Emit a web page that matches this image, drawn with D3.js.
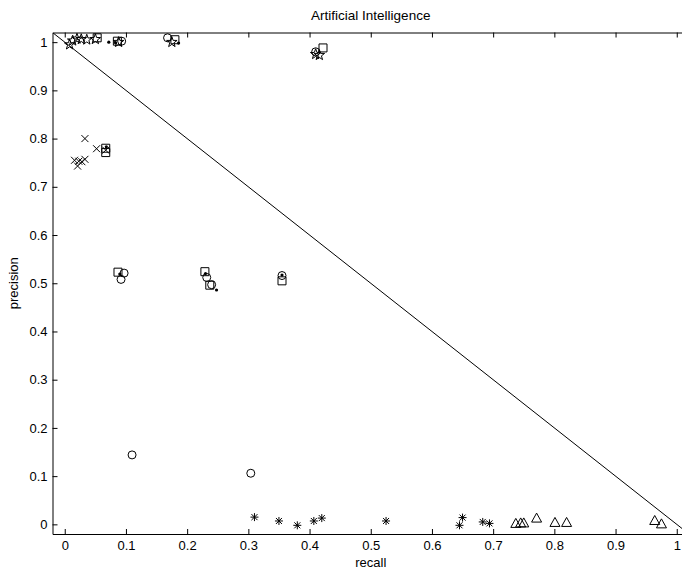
<!DOCTYPE html>
<html>
<head>
<meta charset="utf-8">
<script src="https://cdn.jsdelivr.net/npm/d3@7"></script>
<style>
body { margin: 0; background: #fff; }
text { font-family: "Liberation Sans", Arial, Helvetica, sans-serif; fill: #000; }
</style>
</head>
<body>
<script>
// recall / precision pairs per marker type
var stars = [[0.008, 0.995], [0.013, 1.003], [0.02, 1.007], [0.027, 1.006], [0.036, 1.005], [0.05, 1.006], [0.088, 1.0], [0.175, 1.0], [0.41, 0.975], [0.416, 0.973]];
var squares = [[0.053, 1.009], [0.086, 1.002], [0.18, 1.005], [0.422, 0.988], [0.067, 0.78], [0.067, 0.771], [0.087, 0.523], [0.229, 0.524], [0.237, 0.496], [0.355, 0.505]];
var circles = [[0.093, 1.002], [0.168, 1.009], [0.41, 0.98], [0.097, 0.521], [0.092, 0.508], [0.232, 0.512], [0.24, 0.497], [0.355, 0.516], [0.11, 0.144], [0.304, 0.106]];
var dots = [[0.072, 1.0], [0.083, 0.999], [0.186, 0.998], [0.068, 0.783], [0.09, 0.519], [0.23, 0.52], [0.248, 0.486], [0.355, 0.517]];
var crosses = [[0.033, 0.80], [0.052, 0.779], [0.016, 0.755], [0.023, 0.753], [0.021, 0.743], [0.028, 0.752], [0.033, 0.757], [0.067, 0.776]];
var asterisks = [[0.31, 0.015], [0.35, 0.007], [0.38, -0.002], [0.407, 0.007], [0.42, 0.013], [0.525, 0.007], [0.65, 0.014], [0.645, -0.002], [0.683, 0.005], [0.694, 0.002]];
var triangles = [[0.737, 0.002], [0.745, 0.003], [0.75, 0.003], [0.771, 0.013], [0.801, 0.004], [0.82, 0.004], [0.964, 0.008], [0.975, 0.001]];
var xTicks = [0, 0.1, 0.2, 0.3, 0.4, 0.5, 0.6, 0.7, 0.8, 0.9, 1];
var yTicks = [0, 0.1, 0.2, 0.3, 0.4, 0.5, 0.6, 0.7, 0.8, 0.9, 1];

var width = 682, height = 574;
var mLeft = 52.5, mRight = 689, mTop = 32.5, mBottom = 534;

var svg = d3.select("body").append("svg")
    .attr("width", width)
    .attr("height", height);

var x = d3.scaleLinear().domain([-0.02, 1.02]).range([mLeft, mRight]);
var y = d3.scaleLinear().domain([-0.02, 1.02]).range([mBottom, mTop]);

svg.append("clipPath").attr("id", "clip")
    .append("rect")
    .attr("x", mLeft).attr("y", mTop)
    .attr("width", mRight - mLeft).attr("height", mBottom - mTop);

// axes, MATLAB style: ticks inside
var fmt = function(d) { return String(+d.toFixed(1)); };
svg.append("g")
    .attr("transform", "translate(0," + mBottom + ")")
    .call(d3.axisBottom(x).tickValues(xTicks).tickSizeInner(-5).tickSizeOuter(0).tickPadding(7).tickFormat(fmt));
svg.append("g")
    .attr("transform", "translate(0," + mTop + ")")
    .call(d3.axisTop(x).tickValues(xTicks).tickSizeInner(-5).tickSizeOuter(0).tickFormat(""));
svg.append("g")
    .attr("transform", "translate(" + mLeft + ",0)")
    .call(d3.axisLeft(y).tickValues(yTicks).tickSizeInner(-5).tickSizeOuter(0).tickPadding(5).tickFormat(fmt));
svg.append("g")
    .attr("transform", "translate(" + mRight + ",0)")
    .call(d3.axisRight(y).tickValues(yTicks).tickSizeInner(-5).tickSizeOuter(0).tickFormat(""));

svg.selectAll(".domain, .tick line").attr("stroke", "#000").attr("stroke-width", 1);
svg.selectAll(".tick text").style("font-size", "13px").attr("fill", "#000");

// diagonal
svg.append("line")
    .attr("clip-path", "url(#clip)")
    .attr("x1", x(-0.02)).attr("y1", y(1.02))
    .attr("x2", x(1.02)).attr("y2", y(-0.02))
    .attr("stroke", "#000").attr("stroke-width", 1);

var g = svg.append("g").attr("fill", "none").attr("stroke", "#000").attr("stroke-width", 1);

function starPath(R) {
    var r = R * 0.4, p = [];
    for (var i = 0; i < 10; i++) {
        var a = -Math.PI / 2 + i * Math.PI / 5, rr = i % 2 ? r : R;
        p.push([rr * Math.cos(a), rr * Math.sin(a)]);
    }
    return "M" + p.join("L") + "Z";
}

var shapes = [
    { data: stars, d: starPath(5.5) },
    { data: squares, d: "M-4,-4H4V4H-4Z" },
    { data: circles, d: "M4,0A4,4 0 1,1 -4,0A4,4 0 1,1 4,0Z" },
    { data: crosses, d: "M-3.5,-3.5L3.5,3.5M-3.5,3.5L3.5,-3.5" },
    { data: asterisks, d: "M-4,0H4M0,-4V4M-3,-3L3,3M-3,3L3,-3" },
    { data: triangles, d: "M0,-5L5,4H-5Z" }
];

shapes.forEach(function(s) {
    g.selectAll(null)
        .data(s.data)
        .enter().append("path")
        .attr("d", s.d)
        .attr("transform", function(d) { return "translate(" + x(d[0]) + "," + y(d[1]) + ")"; });
});

svg.append("g").selectAll("circle")
    .data(dots)
    .enter().append("circle")
    .attr("cx", function(d) { return x(d[0]); })
    .attr("cy", function(d) { return y(d[1]); })
    .attr("r", 1.6)
    .attr("fill", "#000");

// labels
var cx = (mLeft + mRight) / 2;
svg.append("text").attr("x", cx).attr("y", 20).attr("text-anchor", "middle")
    .style("font-size", "13.5px").text("Artificial Intelligence");
svg.append("text").attr("x", cx).attr("y", 567).attr("text-anchor", "middle")
    .style("font-size", "13px").text("recall");
svg.append("text").attr("transform", "translate(18," + ((mTop + mBottom) / 2) + ") rotate(-90)")
    .attr("text-anchor", "middle")
    .style("font-size", "13px").text("precision");
</script>
</body>
</html>
